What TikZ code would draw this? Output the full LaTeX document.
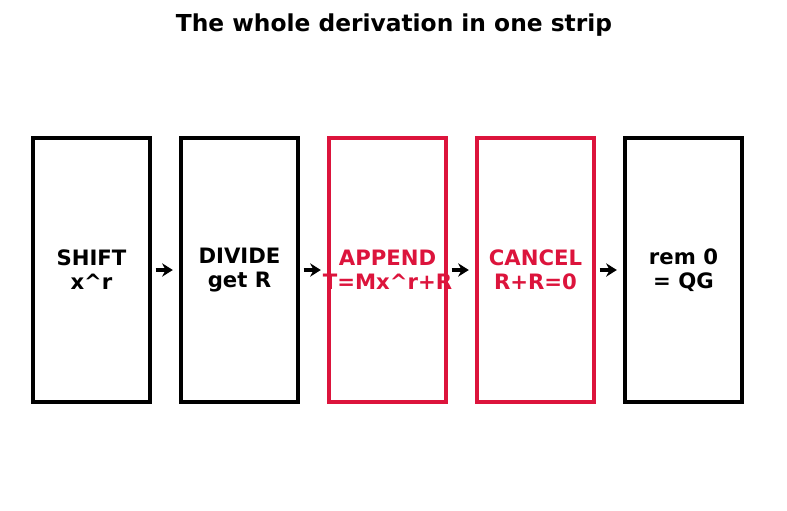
\documentclass[tikz,border=0pt]{standalone}
\usepackage{fontspec}
\setmainfont{DejaVu Sans}
\usetikzlibrary{arrows.meta, positioning}
\definecolor{crimson}{RGB}{220,20,60}
\tikzset{
    boxtext/.style={align=center, font=\bfseries\fontsize{15.9}{18}\selectfont},
    frame/.style={line width=3.3pt, rectangle, minimum width=87.75pt, minimum height=198pt},
    stage/.style={frame, draw=black, label={[boxtext, text=black]center:#1}},
    hot/.style={frame, draw=crimson, label={[boxtext, text=crimson]center:#1}},
    arrow/.style={-{Stealth[length=8pt, width=10pt]}, line width=3pt, shorten <=2.5pt, shorten >=4.5pt}
}
\begin{document}
\begin{tikzpicture}[x=0.75pt, y=-0.75pt, node distance=19.95pt]
    \useasboundingbox (0,0) rectangle (787,510);
    % Title
    \node (title) at (394,25) [font=\bfseries\fontsize{17.5}{20}\selectfont] {The whole derivation in one strip};

    % Stages
    \node (shift) at (91.5,270) [stage={SHIFT\\x\textasciicircum r}] {};
    \node (divide) [stage={DIVIDE\\get R}, right=of shift] {};
    \node (append) [hot={APPEND\\T=Mx\textasciicircum r+R}, right=of divide] {};
    \node (cancel) [hot={CANCEL\\R+R=0}, right=of append] {};
    \node (rem) [stage={rem 0\\= QG}, right=of cancel] {};

    % Flows
    \draw [arrow] (shift) -- (divide);
    \draw [arrow] (divide) -- (append);
    \draw [arrow] (append) -- (cancel);
    \draw [arrow] (cancel) -- (rem);
\end{tikzpicture}
\end{document}
